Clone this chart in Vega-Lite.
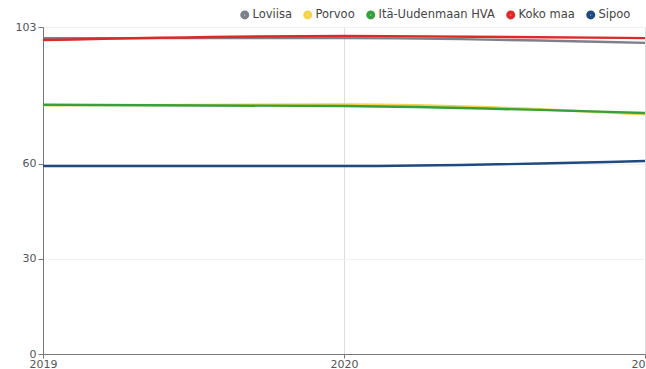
{
  "$schema": "https://vega.github.io/schema/vega-lite/v6.json",
  "width": 602,
  "height": 327,
  "autosize": {"type": "none"},
  "padding": {"left": 43, "top": 27, "right": 1, "bottom": 15},
  "background": "white",
  "config": {
    "font": "DejaVu Sans",
    "view": {"stroke": null},
    "axis": {"labelFont": "DejaVu Sans", "labelFontSize": 11, "labelColor": "#555555", "domainColor": "#777777", "tickColor": "#777777", "tickSize": 5, "title": null}
  },
  "data": {
    "values": [
      {"year": "2019", "area": "Loviisa", "value": 99.5},
      {"year": "2020", "area": "Loviisa", "value": 99.5},
      {"year": "2021", "area": "Loviisa", "value": 98.0},
      {"year": "2019", "area": "Porvoo", "value": 78.3},
      {"year": "2020", "area": "Porvoo", "value": 78.6},
      {"year": "2021", "area": "Porvoo", "value": 75.5},
      {"year": "2019", "area": "Itä-Uudenmaan HVA", "value": 78.5},
      {"year": "2020", "area": "Itä-Uudenmaan HVA", "value": 78.1},
      {"year": "2021", "area": "Itä-Uudenmaan HVA", "value": 75.9},
      {"year": "2019", "area": "Koko maa", "value": 98.9},
      {"year": "2020", "area": "Koko maa", "value": 100.2},
      {"year": "2021", "area": "Koko maa", "value": 99.5},
      {"year": "2019", "area": "Sipoo", "value": 59.2},
      {"year": "2020", "area": "Sipoo", "value": 59.2},
      {"year": "2021", "area": "Sipoo", "value": 60.8}
    ]
  },
  "mark": {"type": "line", "interpolate": "monotone", "strokeWidth": 2.4},
  "encoding": {
    "x": {
      "field": "year", "type": "ordinal",
      "scale": {"type": "point", "padding": 0},
      "axis": {"grid": true, "gridColor": "#dddddd", "gridWidth": 1, "labelAngle": 0, "labelPadding": 0, "tickSize": 4, "labelFlush": false, "labelOverlap": false, "labelBound": false}
    },
    "y": {
      "field": "value", "type": "quantitative",
      "scale": {"domain": [0, 103], "nice": false},
      "axis": {"values": [0, 30, 60, 103], "grid": true, "gridColor": "#f0f0f0", "labelPadding": 2, "labelOverlap": false}
    },
    "color": {
      "field": "area", "type": "nominal",
      "scale": {
        "domain": ["Loviisa", "Porvoo", "Itä-Uudenmaan HVA", "Koko maa", "Sipoo"],
        "range": ["#7b808c", "#f4d24c", "#35a03c", "#dd2a26", "#1f4a80"]
      },
      "legend": {
        "title": null, "orient": "none", "direction": "horizontal",
        "legendX": 196, "legendY": -18,
        "symbolType": "circle", "symbolSize": 16, "symbolStrokeWidth": 5,
        "labelFontSize": 11.5, "labelColor": "#444444", "labelOffset": 2,
        "columnPadding": 3
      }
    }
  }
}
